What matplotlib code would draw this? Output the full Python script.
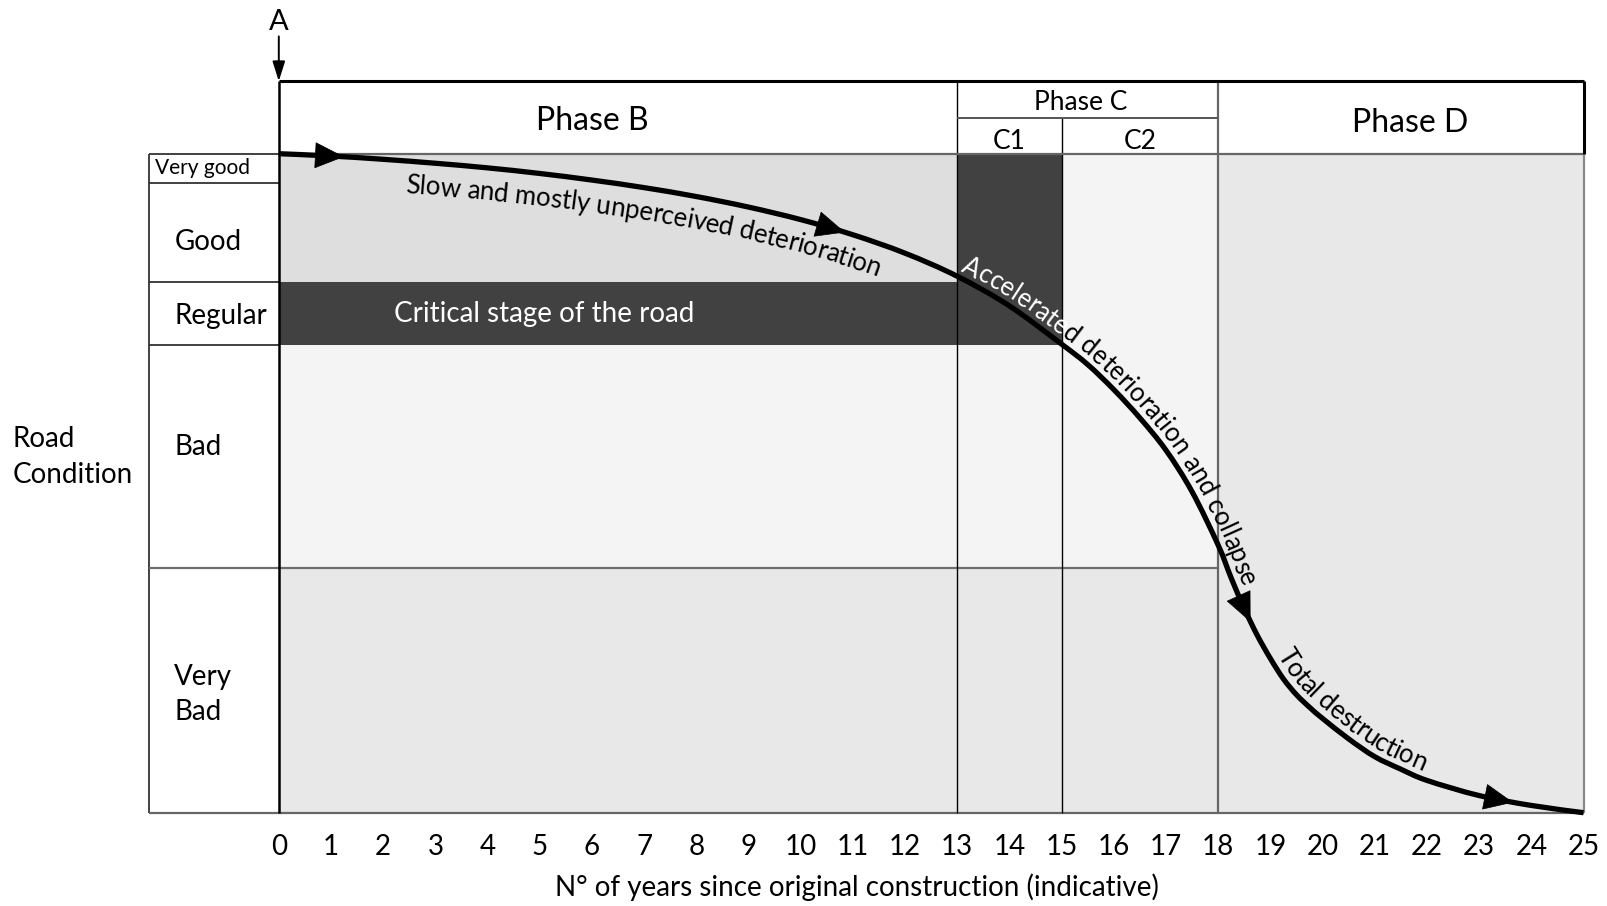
import numpy as np
import matplotlib
matplotlib.use("Agg")
import matplotlib.pyplot as plt
from matplotlib.patches import Rectangle, FancyArrowPatch, PathPatch
from matplotlib.path import Path
from matplotlib.transforms import IdentityTransform
from matplotlib.font_manager import FontProperties

plt.rcParams['font.family'] = ['Lato', 'DejaVu Sans']

# condition bands, 0 = worst .. 100 = best
cond_labels = ["Very\nBad", "Bad", "Regular", "Good", "Very good"]
cond_edges = [0, 37.2, 70.9, 80.6, 95.6, 100]

# phase limits in years: B starts at 0, C1 at 13, C2 at 15, D at 18
phase_edges = [0, 13, 15, 18, 25]
year_ticks = list(range(26))

# deterioration curve
curve_years = [0, 1, 2, 3, 4, 5, 6, 7, 8, 9, 10, 11, 12, 13, 14, 15, 15.5, 16,
               16.5, 17, 17.5, 18, 18.25, 18.5, 18.75, 19, 19.25, 19.5, 19.75,
               20, 20.5, 21, 21.5, 22, 23, 24, 25]
curve_cond = [100, 99.65, 99.15, 98.55, 97.85, 97.0, 96.0, 94.85, 93.5, 91.9,
              90.0, 87.7, 84.9, 81.4, 76.9, 71.1, 68.0, 64.2, 59.9, 55.0, 48.7,
              40.6, 35.6, 31.0, 26.9, 23.4, 20.3, 17.9, 16.0, 14.3, 11.2, 8.5,
              6.6, 4.9, 2.6, 1.1, 0.0]

# arrow heads on the curve (year of tip, year of tail)
arrow_tips = [1.25, 10.85, 18.62, 23.65]
arrow_tails = [0.7, 10.3, 18.45, 23.1]

b0, c1, c2, d0, end = phase_edges
good_lo = cond_edges[3]
reg_lo = cond_edges[2]
bad_lo = cond_edges[1]
hdr_mid = 105.4
hdr_top = 111.0
col_left = -2.49

fig = plt.figure(figsize=(16.07, 9.06), dpi=100)
ax = fig.add_axes([0.17349, 0.10298, 0.81189, 0.72737])
ax.set_xlim(0, 25)
ax.set_ylim(0, 100)
for sp in ax.spines.values():
    sp.set_visible(False)

grey = '#dedede'
dark = '#414141'
light = '#f4f4f4'
mid = '#e8e8e8'
regions = [
    (b0, c1, good_lo, 100, grey),
    (b0, c2, reg_lo, good_lo, dark),
    (c1, c2, good_lo, 100, dark),
    (c2, d0, reg_lo, 100, light),
    (b0, d0, bad_lo, reg_lo, light),
    (b0, d0, 0, bad_lo, mid),
    (d0, end, 0, 100, mid),
]
for x0, x1, y0, y1, col in regions:
    ax.add_patch(Rectangle((x0, y0), x1 - x0, y1 - y0, facecolor=col,
                           edgecolor='none', zorder=1))

lk = dict(clip_on=False, solid_capstyle='butt', zorder=3)
# label column
ax.plot([col_left, col_left], [0, 100], color='#333333', lw=1.3, **lk)
for e in cond_edges[1:]:
    ax.plot([col_left, 0], [e, e], color='#333333', lw=1.3, **lk)
ax.plot([col_left, end], [0, 0], color='#666666', lw=1.6, **lk)
ax.plot([col_left, d0], [bad_lo, bad_lo], color='#6e6e6e', lw=1.6, **lk)
# phase lines
ax.plot([0, 0], [0, hdr_top], color='black', lw=1.8, **lk)
ax.plot([c1, c1], [0, hdr_top], color='black', lw=1.0, **lk)
ax.plot([c2, c2], [0, hdr_mid], color='black', lw=1.0, **lk)
ax.plot([d0, d0], [0, hdr_top], color='#666666', lw=1.6, **lk)
ax.plot([c1, d0], [hdr_mid, hdr_mid], color='#555555', lw=1.4, **lk)
ax.plot([0, end], [100, 100], color='#666666', lw=1.6, **lk)
ax.plot([end, end], [0, 100], color='#888888', lw=1.6, **lk)
ax.plot([0, end], [hdr_top, hdr_top], color='black', lw=2.2, **lk)
ax.plot([end, end], [100, hdr_top], color='black', lw=2.2, **lk)

# header texts
ax.text(6.0, 104.9, "Phase B", fontsize=23, ha='center', va='center', clip_on=False)
ax.text(15.37, 107.8, "Phase C", fontsize=19, ha='center', va='center', clip_on=False)
ax.text(14.0, 101.9, "C1", fontsize=19, ha='center', va='center', clip_on=False)
ax.text(16.5, 101.9, "C2", fontsize=19, ha='center', va='center', clip_on=False)
ax.text(21.68, 104.6, "Phase D", fontsize=23, ha='center', va='center', clip_on=False)

# A marker
ax.text(0, 120.0, "A", fontsize=21, ha='center', va='center', clip_on=False)
ax.add_patch(FancyArrowPatch((0, 117.8), (0, 111.0),
                             arrowstyle='-|>,head_length=12,head_width=3.8',
                             mutation_scale=1, color='black', lw=1.4,
                             shrinkA=0, shrinkB=0, clip_on=False, zorder=4))

# condition labels
label_y = [17.9, 55.5, 75.4, 86.6, 97.8]
for name, yy in zip(cond_labels, label_y):
    if name == "Very good":
        ax.text(-2.38, yy, name, fontsize=15, ha='left', va='center', clip_on=False)
    else:
        ax.text(-2.0, yy, name, fontsize=20, ha='left', va='center',
                linespacing=1.42, clip_on=False)
ax.text(-5.1, 54.0, "Road\nCondition", fontsize=20, ha='left', va='center',
        linespacing=1.5, clip_on=False)

ax.text(5.09, 75.6, "Critical stage of the road", fontsize=20, color='white',
        ha='center', va='center', zorder=4)

# curve: smooth bezier through the read points (Catmull-Rom)
P = np.column_stack([curve_years, curve_cond]).astype(float)
verts = [P[0]]
codes = [Path.MOVETO]
n = len(P)
for i in range(n - 1):
    p0 = P[max(i - 1, 0)]
    p1 = P[i]
    p2 = P[i + 1]
    p3 = P[min(i + 2, n - 1)]
    verts += [p1 + (p2 - p0) / 6, p2 - (p3 - p1) / 6, p2]
    codes += [Path.CURVE4] * 3
curve_path = Path(verts, codes)
ax.add_patch(PathPatch(curve_path, facecolor='none', edgecolor='black', lw=3.8,
                       capstyle='butt', joinstyle='round', zorder=5, clip_on=False))

# flattened curve in data coords for placing arrows and labels
flat = curve_path.to_polygons(closed_only=False)[0]
fx, fy = flat[:, 0], flat[:, 1]

for t0, t1 in zip(arrow_tails, arrow_tips):
    pa = (t0, np.interp(t0, fx, fy))
    pb = (t1, np.interp(t1, fx, fy))
    ax.add_patch(FancyArrowPatch(pa, pb, arrowstyle='-|>,head_length=20,head_width=9',
                                 mutation_scale=1, color='black', lw=0.5,
                                 shrinkA=0, shrinkB=0, zorder=6, clip_on=False))

# ticks
ax.set_xticks(year_ticks)
ax.set_yticks([])
ax.tick_params(axis='x', length=0, pad=15, labelsize=20)
ax.set_xlabel("N° of years since original construction (indicative)", fontsize=20)
ax.xaxis.set_label_coords(11.07 / 25, -0.1137)
ax.xaxis.label.set_va('center')


def is_dark(x, y):
    if 0 <= x <= c2 and reg_lo <= y <= good_lo:
        return True
    return c1 <= x <= c2 and good_lo <= y <= 100


def curve_text(text, start_year, offset, size):
    renderer = fig.canvas.get_renderer()
    pts = ax.transData.transform(flat)
    seg = np.hypot(*np.diff(pts, axis=0).T)
    s = np.concatenate([[0], np.cumsum(seg)])
    fp = FontProperties(family=['Lato', 'DejaVu Sans'], size=size)

    def width(t):
        return renderer.get_text_width_height_descent(t, fp, ismath=False)[0]

    def at(v):
        return np.interp(v, s, pts[:, 0]), np.interp(v, s, pts[:, 1])

    s0 = np.interp(start_year, fx, s)
    wl = width("l")
    half = size * 100 / 72 * 0.36
    inv = ax.transData.inverted()
    for i, ch in enumerate(text):
        if ch == " ":
            continue
        pre = width(text[:i] + "l") - wl if i else 0
        sc = s0 + pre + width(ch) / 2
        x, y = at(sc)
        xa, ya = at(sc - 12)
        xb, yb = at(sc + 12)
        ang = np.arctan2(yb - ya, xb - xa)
        nx, ny = -np.sin(ang), np.cos(ang)
        px = x + nx * offset
        py = y + ny * offset
        dx, dy = inv.transform((px + nx * half, py + ny * half))
        col = 'white' if is_dark(dx, dy) else 'black'
        ax.text(px, py, ch, transform=IdentityTransform(), fontproperties=fp,
                rotation=np.degrees(ang), rotation_mode='anchor',
                ha='center', va='baseline', color=col, zorder=7)


curve_text("Slow and mostly unperceived deterioration", 2.46, -32, 18.6)
curve_text("Accelerated deterioration and collapse", 13.0, 6, 18.4)
curve_text("Total destruction", 19.0, 7, 18.6)

fig.savefig("out.png", dpi=100)
